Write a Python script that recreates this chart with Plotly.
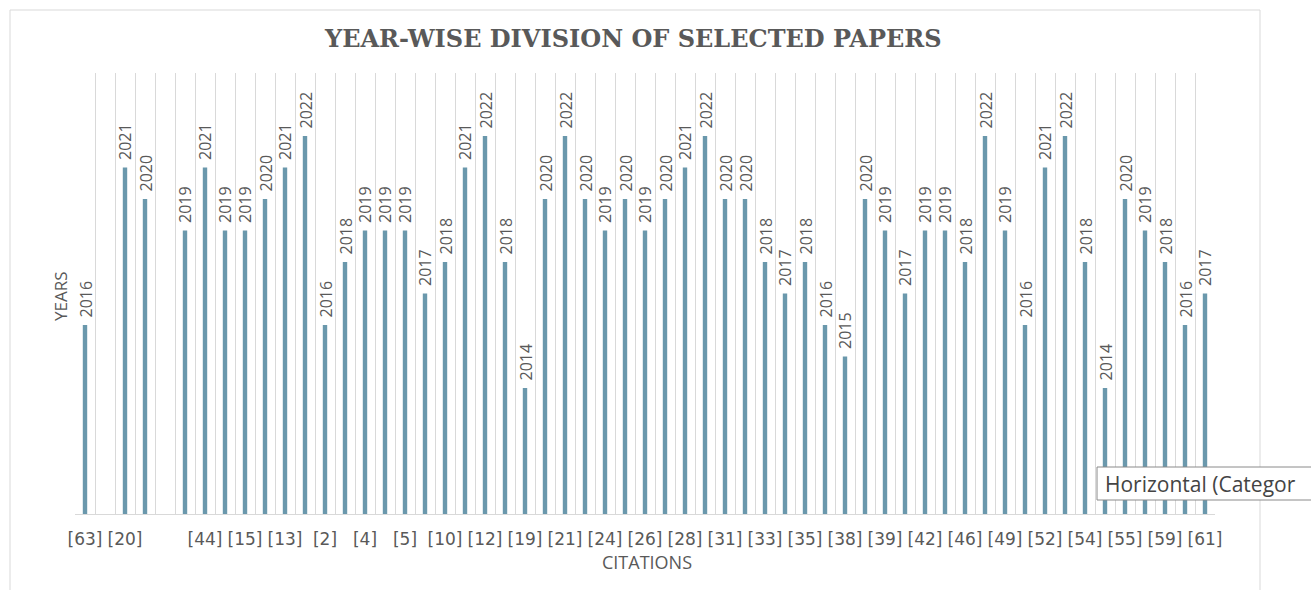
import plotly.graph_objects as go

# Publication year of each selected paper (None = empty slot)
years = [2016, None, 2021, 2020, None, 2019, 2021, 2019, 2019, 2020,
         2021, 2022, 2016, 2018, 2019, 2019, 2019, 2017, 2018, 2021,
         2022, 2018, 2014, 2020, 2022, 2020, 2019, 2020, 2019, 2020,
         2021, 2022, 2020, 2020, 2018, 2017, 2018, 2016, 2015, 2020,
         2019, 2017, 2019, 2019, 2018, 2022, 2019, 2016, 2021, 2022,
         2018, 2014, 2020, 2019, 2018, 2016, 2017]

# Visible category labels (every other category shown)
citation_labels = ["[63]", "[20]", "", "[44]", "[15]", "[13]", "[2]", "[4]", "[5]", "[10]",
                   "[12]", "[19]", "[21]", "[24]", "[26]", "[28]", "[31]", "[33]", "[35]", "[38]",
                   "[39]", "[42]", "[46]", "[49]", "[52]", "[54]", "[55]", "[59]", "[61]"]

title_text = "YEAR-WISE DIVISION OF SELECTED PAPERS"
x_title = "CITATIONS"
y_title = "YEARS"
tooltip_text = "Horizontal (Categor"

n = len(years)
xs = list(range(n))
label_pos = list(range(0, n, 2))

W, H = 1311, 590
L, R, T, B = 75, 1311 - 1215, 73, 590 - 514
pw, ph = W - L - R, H - T - B

def px_x(p):
    return (p - L) / pw

def px_y(p):
    return (H - B - p) / ph

gray = "#595959"

fig = go.Figure()
fig.add_trace(go.Bar(
    x=xs, y=years, width=0.22,
    marker=dict(color="#6A98AC", line=dict(width=0)),
    hoverinfo="skip",
))

# rotated value labels above each bar
for xi, v in zip(xs, years):
    if v is None:
        continue
    fig.add_annotation(x=xi, y=v, xref="x", yref="y", text=str(v), textangle=-90,
                       xanchor="center", yanchor="bottom", yshift=5, showarrow=False,
                       font=dict(family="Open Sans, sans-serif", size=16, color=gray))

fig.update_layout(
    width=W, height=H,
    margin=dict(l=L, r=R, t=T, b=B),
    paper_bgcolor="white", plot_bgcolor="white",
    showlegend=False,
    xaxis=dict(
        range=[-0.5, n - 0.5], tickmode="array", tickvals=label_pos, ticktext=citation_labels,
        tickangle=0, showgrid=False, zeroline=False, showline=True, linecolor="#D9D9D9",
        ticks="", ticklabelstandoff=10,
        tickfont=dict(family="DejaVu Sans, sans-serif", size=17, color=gray),
        minor=dict(tickmode="array", tickvals=[i - 0.5 for i in range(n + 1)],
                   showgrid=True, gridcolor="#D9D9D9", gridwidth=1, ticks=""),
    ),
    yaxis=dict(range=[2010, 2024], showticklabels=False, showgrid=False, zeroline=False,
               showline=False, ticks=""),
)

fig.add_annotation(text=title_text, xref="paper", yref="paper", x=px_x(633), y=px_y(38),
                   xanchor="center", yanchor="middle", showarrow=False,
                   font=dict(family="DejaVu Serif, serif", size=24, color=gray, weight="bold"))
fig.add_annotation(text=x_title, xref="paper", yref="paper", x=px_x(647), y=px_y(562),
                   xanchor="center", yanchor="middle", showarrow=False,
                   font=dict(family="Open Sans, sans-serif", size=18, color=gray))
fig.add_annotation(text=y_title, xref="paper", yref="paper", x=px_x(60), y=px_y(296),
                   xanchor="center", yanchor="middle", showarrow=False, textangle=-90,
                   font=dict(family="Open Sans, sans-serif", size=17, color=gray))

# outer chart frame
fig.add_shape(type="rect", xref="paper", yref="paper",
              x0=px_x(10), x1=px_x(1260), y0=px_y(600), y1=px_y(10),
              line=dict(color="#D9D9D9", width=1), fillcolor="rgba(0,0,0,0)", layer="below")

# tooltip box seen in the screenshot (cut by the window edge)
fig.add_shape(type="rect", xref="paper", yref="paper",
              x0=px_x(1097), x1=px_x(1320), y0=px_y(500), y1=px_y(467),
              line=dict(color="#8A8A8A", width=1), fillcolor="white", layer="above")
fig.add_annotation(text=tooltip_text, xref="paper", yref="paper",
                   x=px_x(1103), y=px_y(484), xanchor="left", yanchor="middle", showarrow=False,
                   font=dict(family="Open Sans, sans-serif", size=21, color="#444444"))

fig.write_html("out.html")
